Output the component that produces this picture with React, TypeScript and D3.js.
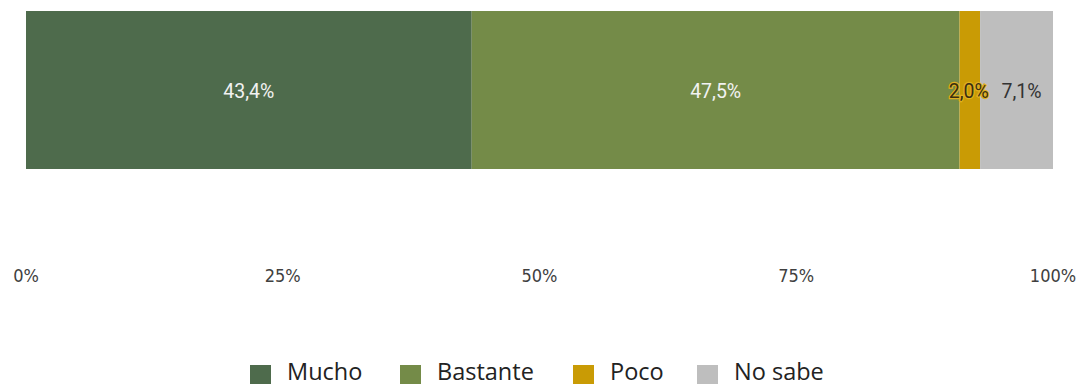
import React from "react";
import * as d3 from "d3";

const categories = ["Mucho", "Bastante", "Poco", "No sabe"];
const values = [43.4, 47.5, 2.0, 7.1];
const labels = ["43,4%", "47,5%", "2,0%", "7,1%"];
const tickValues = [0, 25, 50, 75, 100];
const tickLabels = ["0%", "25%", "50%", "75%", "100%"];
const colors = ["#4e6b4c", "#748b48", "#c99b05", "#bebebe"];
const labelColors = ["#f2f2f2", "#f2f2f2", "#3a2f10", "#333333"];
const legendX = [250, 400, 573, 697];

export default function App() {
  const W = 1082, H = 387;
  const x = d3.scaleLinear().domain([0, 100]).range([26, 1053]);
  const y0 = 11, y1 = 169;
  let cum = 0;
  const segs = values.map((v, i) => {
    const s = { start: cum, end: cum + v, i };
    cum += v;
    return s;
  });
  const labelOffsets = [0, 0, -1, 5];
  return (
    <svg width={W} height={H} style={{ position: "absolute", left: 0, top: 0 }}>
      <rect width={W} height={H} fill="#ffffff" />
      {segs.map((s) => (
        <rect key={s.i} x={x(s.start)} y={y0} width={x(s.end) - x(s.start)} height={y1 - y0} fill={colors[s.i]} />
      ))}
      {segs.map((s) => {
        const cx = (x(s.start) + x(s.end)) / 2 + labelOffsets[s.i];
        return (
          <text key={"l" + s.i} x={cx} y={98} textAnchor="middle"
            fontFamily="Roboto, Arial, sans-serif" fontSize={19.5}
            fill={labelColors[s.i]}
            stroke={s.i === 2 ? "#e0b020" : "none"} strokeWidth={s.i === 2 ? 2.5 : 0}
            paintOrder="stroke">
            {labels[s.i]}
          </text>
        );
      })}
      {tickValues.map((t, i) => (
        <text key={"t" + i} x={x(t)} y={282} textAnchor="middle"
          fontFamily="'DejaVu Sans Condensed', 'Liberation Sans Narrow', sans-serif" fontSize={18} fill="#404040">
          {tickLabels[i]}
        </text>
      ))}
      {categories.map((c, i) => (
        <g key={"g" + i}>
          <rect x={legendX[i]} y={365} width={21} height={19} fill={colors[i]} />
          <text x={legendX[i] + 37} y={380}
            fontFamily="'Open Sans', 'Noto Sans', sans-serif" fontSize={23.5} fill="#222222">
            {c}
          </text>
        </g>
      ))}
    </svg>
  );
}
